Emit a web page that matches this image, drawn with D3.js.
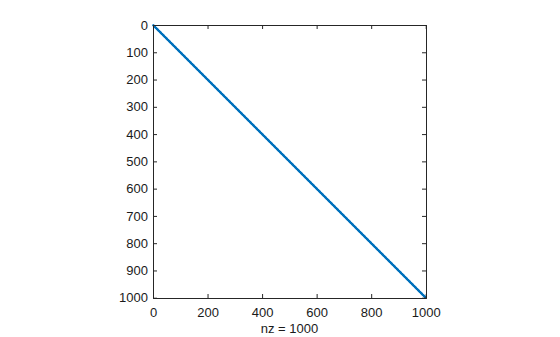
<!DOCTYPE html>
<html>
<head>
<meta charset="utf-8">
<script src="https://cdn.jsdelivr.net/npm/d3@7"></script>
<style>
  body { margin: 0; background: #fff; }
  svg text { font-family: "Liberation Sans", Arial, Helvetica, sans-serif; font-size: 13px; fill: #1a1a1a; }
</style>
</head>
<body>
<div id="chart"></div>
<script>
// spy(speye(1000)) -- sparsity pattern of a 1000x1000 identity matrix
const matrixSize = 1000
const nzRows = d3.range(1, matrixSize + 1)   // nonzero at (i, i)
const nzCols = nzRows.slice()
const xTicks = [0, 200, 400, 600, 800, 1000]
const yTicks = [0, 100, 200, 300, 400, 500, 600, 700, 800, 900, 1000]
const xLabel = 'nz = ' + nzRows.length

const width = 560, height = 337
const margin = {top: 25, left: 153, size: 273}

const svg = d3.select('#chart').append('svg')
    .attr('width', width)
    .attr('height', height)

const xScale = d3.scaleLinear().domain([0, matrixSize + 1]).range([0, margin.size])
const yScale = d3.scaleLinear().domain([0, matrixSize + 1]).range([0, margin.size])

const g = svg.append('g')
    .attr('transform', `translate(${margin.left},${margin.top})`)

// markers
const pts = nzRows.map((r, i) => ({row: r, col: nzCols[i]}))
g.append('g').selectAll('circle').data(pts)
    .enter()
    .append('circle')
    .attr('cx', d => xScale(d.col))
    .attr('cy', d => yScale(d.row))
    .attr('r', 1.05)
    .attr('fill', '#0072BD')

// axes, ticks pointing inward
const tick = 4
const fmt = d3.format('d')
const xAxisB = d3.axisBottom(xScale).tickValues(xTicks).tickSize(-tick).tickPadding(10).tickFormat(fmt)
const xAxisT = d3.axisTop(xScale).tickValues(xTicks).tickSize(-tick).tickFormat('')
const yAxisL = d3.axisLeft(yScale).tickValues(yTicks).tickSize(-tick).tickPadding(5).tickFormat(fmt)
const yAxisR = d3.axisRight(yScale).tickValues(yTicks).tickSize(-tick).tickFormat('')

const styleAxis = sel => {
    sel.selectAll('.domain').attr('stroke', '#262626').attr('stroke-width', 1)
    sel.selectAll('.tick line').attr('stroke', '#262626')
    sel.attr('font-size', null).attr('font-family', null)
}

g.append('g').attr('transform', `translate(0,${margin.size})`).call(xAxisB).call(styleAxis)
g.append('g').call(xAxisT).call(styleAxis)
g.append('g').call(yAxisL).call(styleAxis)
g.append('g').attr('transform', `translate(${margin.size},0)`).call(yAxisR).call(styleAxis)

g.append('text')
    .attr('x', margin.size / 2)
    .attr('y', margin.size + 35)
    .attr('text-anchor', 'middle')
    .text(xLabel)
</script>
</body>
</html>
